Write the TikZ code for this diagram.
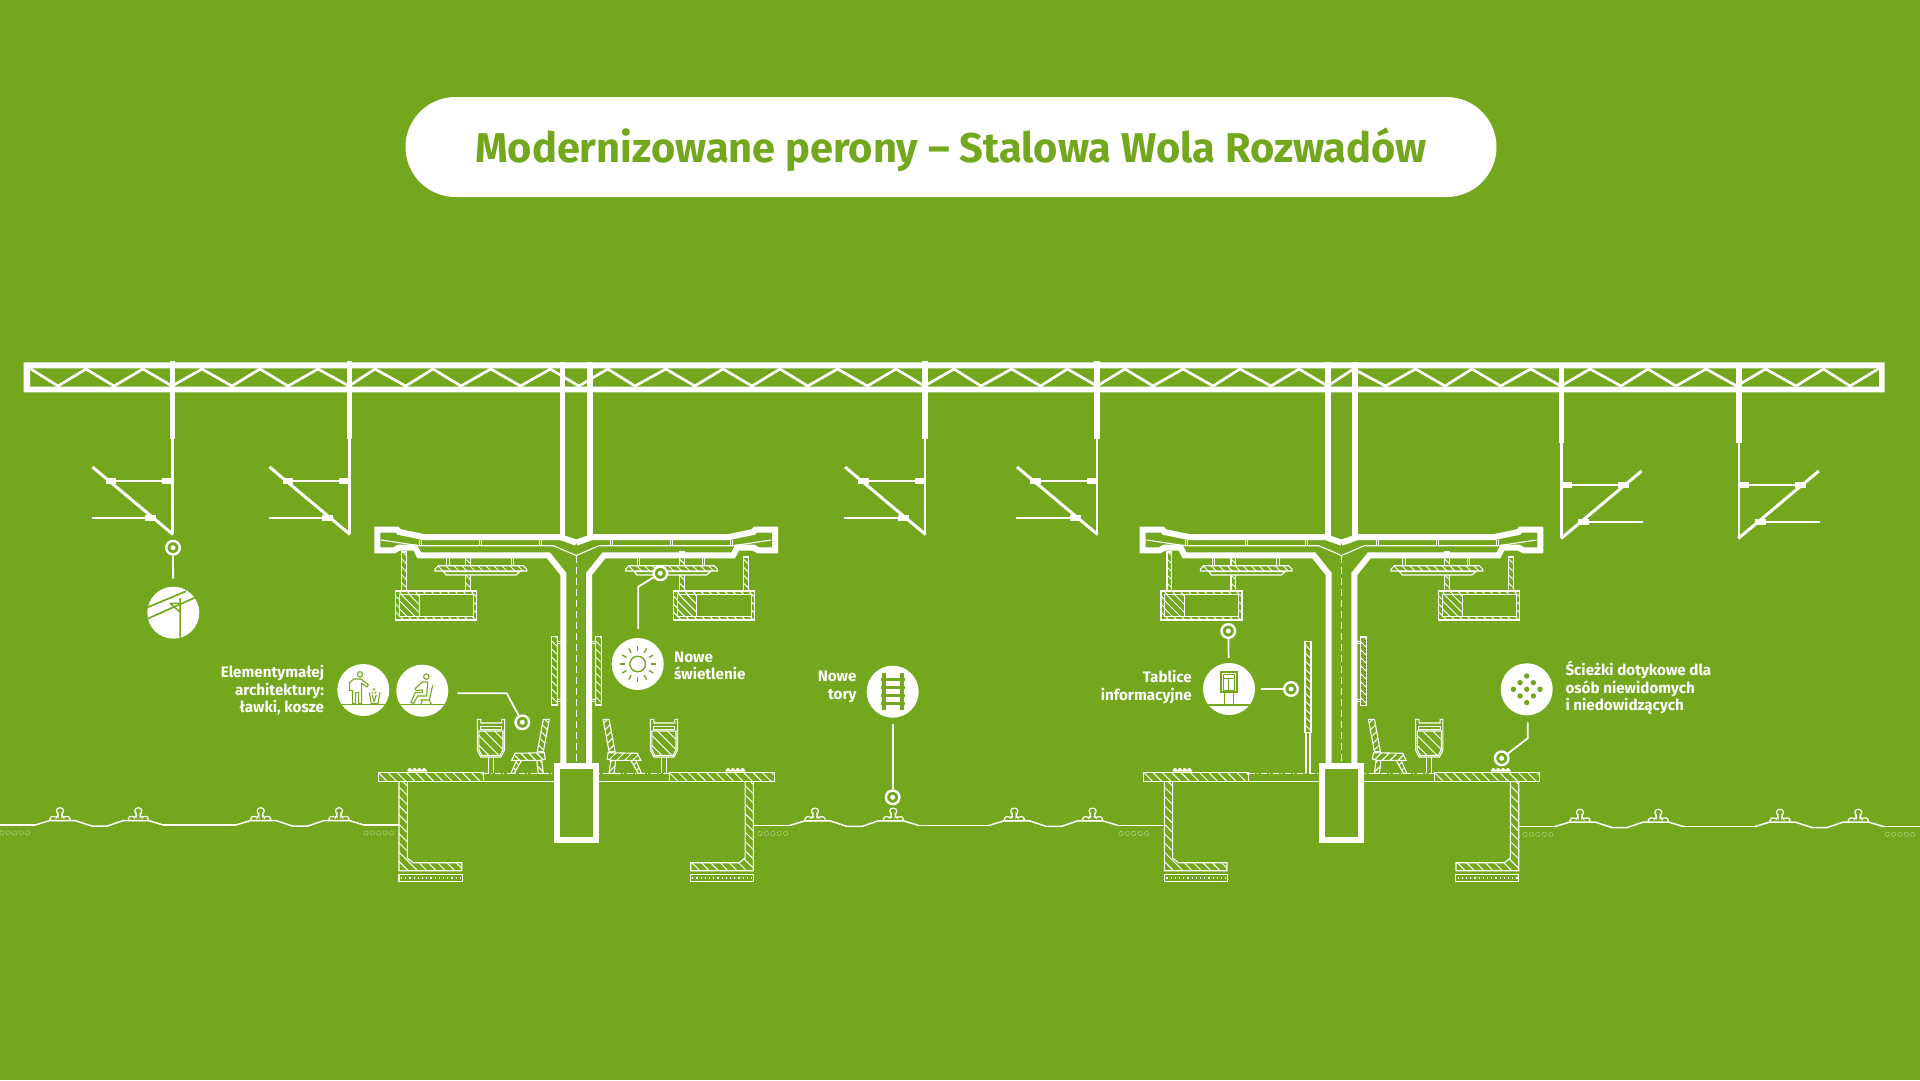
\documentclass[tikz,border=0pt]{standalone}
\usepackage{fontspec}
\usetikzlibrary{calc}
\setmainfont{Fira Sans}
\definecolor{bg}{RGB}{115,168,30}
\tikzset{
  fine/.style={draw=white,line width=1.1pt},
  hatchl/.style={white,line width=.95pt},
  thickl/.style={draw=white,line width=6pt,miter limit=10},
  lead/.style={draw=white,line width=1.8pt},
  ringn/.style={circle,draw=white,fill=bg,line width=2.4pt,minimum size=13.6pt,inner sep=0pt},
  iconc/.style={circle,fill=white,minimum size=52pt,inner sep=0pt},
  ink/.style={draw=bg,line width=1.1pt},
  lbl/.style={text=white,font=\bfseries\fontsize{15.2}{17.6}\selectfont},
  trk/.style={draw=white,line width=1.5pt},
  railp/.style={draw=white,fill=bg,line width=1.2pt,rounded corners=1.2pt},
  grav/.style={draw=white,line width=.45pt,dash pattern=on .7pt off 1pt},
}
% #1 path, #2-#5 bounding box, #6 step
\newcommand\hatchshape[6]{%
  \fill[bg] #1;
  \begin{scope}\clip #1;
    \pgfmathsetmacro\hhh{#5-(#3)}%
    \pgfmathsetmacro\xxs{#2-\hhh}%
    \pgfmathsetmacro\xxn{\xxs+#6}%
    \foreach \k in {\xxs,\xxn,...,#4} \draw[hatchl] (\k,#3) -- ++(\hhh,\hhh);
  \end{scope}
  \draw[fine] #1;}
\newcommand\hatchrect[5]{\hatchshape{(#1,#2) rectangle (#3,#4)}{#1}{#2}{#3}{#4}{#5}}
\newcommand\halfcanopy{%
  \draw[thickl] (0,542.7) -- (-16,537) -- (-152.8,537) -- (-177,532) -- (-179,529.7) -- (-198.8,529.7)
     -- (-198.8,550.3) -- (-182,550.3) -- (-177,547.5) -- (-161,547.5) -- (-157,555.3) -- (-27.8,555.3) -- (-12.8,574) -- (-12.8,766);
  \draw[draw=white,line width=5.6pt] (-13.6,362) -- (-13.6,537);
  \draw[fine] (-195,540) -- (-156.8,545.7) -- (-22.8,545.7) -- (0,555.5);
  \foreach \q in {-155.5,-95.5,-35.5}{\draw[white,line width=.8pt] (\q-1.1,540) -- (\q-1.1,545.7) (\q+1.1,540) -- (\q+1.1,545.7);}
}
\newcommand\lightbox[1]{\begin{scope}[shift={(#1,0)}]
  \hatchrect{6}{552}{10.7}{591}{8}
  \hatchrect{70}{557}{74.7}{591}{8}
  \hatchrect{0}{591}{81}{620}{8}
  \filldraw[fine,fill=bg] (3.7,594.3) rectangle (77.7,616.7);
  \hatchrect{3.7}{594.3}{23.4}{616.7}{8}
\end{scope}}
\newcommand\fixture[1]{\begin{scope}[shift={(#1,0)}]
  \foreach \q in {13,77.7}{\draw[white,line width=.9pt] (\q-1.1,557) -- (\q-1.1,565.7) (\q+1.1,557) -- (\q+1.1,565.7);}
  \hatchshape{(0,569)--(3.4,565.7)--(88.3,565.7)--(91.7,569)--(91.7,571)--(0,571)--cycle}{0}{565.7}{91.7}{571}{8}
  \filldraw[fine,fill=bg] (8.4,571.5) -- (11.2,575) -- (81,575) -- (85,571.5) -- cycle;
\end{scope}}
\newcommand\canopy[1]{\begin{scope}[shift={(#1,0)}]
  \draw[white,line width=1.1pt,dash pattern=on 7pt off 4pt] (0,556) -- (0,762);
  \lightbox{-180.5}\lightbox{97.2}
  \fixture{-141.2}\fixture{49.5}
  \halfcanopy
  \begin{scope}[xscale=-1]\halfcanopy\end{scope}
\end{scope}}
\newcommand\bump[1]{\begin{scope}[shift={(#1,0)}]
  \fill[white] (0,771.7) -- (0,770.3) -- (.4,770) arc[start angle=180,end angle=0,radius=2pt] -- (5.2,770) arc[start angle=180,end angle=0,radius=2pt] -- (10,770) arc[start angle=180,end angle=0,radius=2pt] -- (14.8,770) arc[start angle=180,end angle=0,radius=2pt] -- (19.5,770.3) -- (19.5,771.7) -- cycle;
\end{scope}}
\newcommand\platform[1]{\begin{scope}[shift={(#1,0)}]
  \draw[white,line width=1pt] (-93,781) -- (93,781);
  \draw[white,line width=.9pt,dash pattern=on 6pt off 2pt on 1pt off 3pt] (-93,773.6) -- (93,773.6);
  % walls
  \hatchshape{(-177.2,781)--(-177.2,870.7)--(-114.5,870.7)--(-114.5,862.7)--(-163,862.7)--(-168.9,858)--(-168.9,781)--cycle}{-177.2}{781}{-114.5}{870.7}{9.3}
  \hatchshape{(177.2,781)--(177.2,870.7)--(114.5,870.7)--(114.5,862.7)--(163,862.7)--(168.9,858)--(168.9,781)--cycle}{114.5}{781}{177.2}{870.7}{9.3}
  \hatchrect{-197.9}{772.7}{-92.9}{781.7}{9.3}
  \hatchrect{92.9}{772.7}{198}{781.7}{9.3}
  \foreach \q in {-177.2,114}{
    \begin{scope}[shift={(\q,0)}]
      \draw[fine] (0,874.3) rectangle (63.2,881.7);
      \draw[white,line width=1.2pt,dash pattern=on 1.2pt off 3pt] (2,878) -- (62,878);
    \end{scope}}
  \bump{-168.9}\bump{149.5}
\end{scope}}
\newcommand\stubs[4]{\draw[white,line width=.9pt] (#1,#2) -- (#3,#2) (#1,#2+2.6) -- (#3,#2+2.6) (#1,#4) -- (#3,#4) (#1,#4+2.6) -- (#3,#4+2.6);}
\newcommand\binat[1]{\begin{scope}[shift={(#1,0)}]
  \draw[fine] (11,757) -- (11,773) (16,757) -- (16,773);
  \filldraw[fine,fill=bg] (0,719.3) -- (0,750) -- (3.5,757) -- (23.8,757) -- (27.3,750) -- (27.3,719.3) -- (24.5,719.3) -- (24.5,723) -- (3.5,723) -- (3.5,719.3) -- cycle;
  \draw[fine] (2.8,726.5) rectangle (24.5,729.3);
  \hatchshape{(1.6,731) -- (25.7,731) -- (25.7,749.5) -- (22.8,755.4) -- (4.5,755.4) -- (1.6,749.5) -- cycle}{1.6}{731}{25.7}{755.4}{10}
\end{scope}}
\newcommand\benchshape{%
  \hatchshape{(-32.9,719.3) -- (-26.9,719.3) -- (-32.9,751.7) -- (-38.9,751.7) -- cycle}{-39}{719.3}{-26.9}{751.7}{8}
  \hatchshape{(-59.5,760) -- (-65.2,773.3) -- (-61.9,773.3) -- (-54.5,760) -- cycle}{-65.2}{760}{-54.5}{773.3}{8}
  \hatchshape{(-39.5,760) -- (-37.9,773.3) -- (-32.9,773.3) -- (-34.5,760) -- cycle}{-39.5}{760}{-32.9}{773.3}{8}
  \hatchshape{(-61.2,753.3) -- (-31.9,752.7) -- (-30.9,759) -- (-35.5,760.3) -- (-64.5,760.3) -- cycle}{-64.5}{752.7}{-30.9}{760.3}{8}
}
\newcommand\raily[2]{\begin{scope}[shift={(#1,#2)}]
  \filldraw[railp] (-10,0) -- (-10,-3) -- (-7,-4.5) -- (-3.5,-3) -- (-2,-4.5) -- (-2,-6.5) -- (-3.5,-8.5) -- (-3.5,-11) -- (-1.5,-12.7) -- (1.5,-12.7) -- (3.5,-11) -- (3.5,-8.5) -- (2,-6.5) -- (2,-4.5) -- (3.5,-3) -- (7,-4.5) -- (10,-3) -- (10,0) -- cycle;
  \end{scope}}
\newcommand\railpair[2]{\begin{scope}[shift={(#1,#2)}]
  \draw[trk] (0,825) -- (15,820.5) -- (40,820.5) -- (56.7,826) -- (72.3,826) -- (88.3,820.5) -- (113.3,820.5) -- (128.3,825);
  \raily{25}{820.5}\raily{103.3}{820.5}
\end{scope}}
\newcommand\gravel[2]{\foreach \q in {0,6.4,...,30}{\draw[grav] (#1+\q,#2) circle[radius=2.2pt];}}
\newcommand\catunit[2]{\begin{scope}[shift={(#1,0)}]
  \draw[white,line width=5.6pt] (0,360.5) -- (0,#2);
  \draw[white,line width=2.6pt] (0,#2) -- (0,533);
  \draw[white,line width=3pt] (-80,467) -- (.6,534.5);
  \draw[white,line width=1.6pt] (-57,481) -- (0,481) (-81,518) -- (-22,518);
  \fill[white] (-67,478) rectangle (-56.5,484);
  \fill[white] (-10.5,478) rectangle (0,484);
  \fill[white] (-27.5,515) rectangle (-16.5,521);
\end{scope}}
\newcommand\ringdot[1]{\fill[white] (#1) circle[radius=2.5pt];}
\begin{document}
\begin{tikzpicture}[x=1pt,y=-1pt]
\useasboundingbox (0,0) rectangle (1920,1080);
\fill[bg] (0,0) rectangle (1920,1080);

% title
\node[fill=white,rounded corners=50pt,minimum width=1091pt,minimum height=100pt,inner sep=0pt] (pill) at (951,147) {};
\node[text=bg,font=\bfseries\fontsize{41.6}{44}\selectfont] (title) at (951,150) {Modernizowane perony – Stalowa Wola Rozwadów};

% truss
\fill[white,even odd rule] (23.5,362.3) rectangle (1884.5,392.3) (30,368.3) rectangle (1879,386.5);
\draw[white,line width=2.7pt,line join=miter] (30,368.5) -- (58,386) -- (86,369) -- (114,386) -- (143,369) -- (172,386) -- (202,369) -- (232,386) -- (260,369) -- (288,386) -- (318,369) -- (349,386) -- (375,369) -- (405.7,386) -- (433,369) -- (461,386) -- (490.7,369) -- (520.6,386) -- (550.4,369) -- (578.8,386) -- (607.7,369) -- (635,386) -- (665.9,369) -- (694.7,386) -- (723,369) -- (752,386) -- (780,369) -- (807.7,386) -- (837.5,369) -- (867.4,386) -- (896,369) -- (924.5,386) -- (954,369) -- (981,386) -- (1011.6,369) -- (1040.5,386) -- (1067.4,369) -- (1097,386) -- (1125,369) -- (1153,386) -- (1183,369) -- (1213,386) -- (1240,369) -- (1271,386) -- (1299,369) -- (1327.6,386) -- (1353.4,369) -- (1385.5,386) -- (1415.4,369) -- (1445,386) -- (1472,369) -- (1500.6,386) -- (1530.6,369) -- (1561,386) -- (1590,369) -- (1621,386) -- (1648,369) -- (1676,386) -- (1706,369) -- (1736.7,386) -- (1765.6,369) -- (1796,386) -- (1823.5,369) -- (1850,386) -- (1879,368.5);

% catenary units
\catunit{172.5}{439}
\catunit{349.5}{439}
\catunit{925}{439}
\catunit{1097}{439}
\begin{scope}[shift={(0,4)}]
  \begin{scope}[xscale=-1]
    \catunit{-1561.6}{439.3}
    \catunit{-1738.8}{439.3}
  \end{scope}
\end{scope}

% platforms and canopies
\platform{576.2}
\platform{1341.5}
\canopy{576.2}
\canopy{1341.5}
\begin{scope}[shift={(576.2,0)}]
  \filldraw[thickl,fill=bg] (-19.2,765.7) rectangle (19.3,839.7);
  \hatchrect{-24.5}{636.7}{-18.5}{705}{8}
  \hatchrect{19.5}{636.7}{25.5}{705}{8}
  \stubs{-18.5}{641}{-15.5}{699}
  \stubs{15.5}{641}{19.5}{699}
  \binat{-98.9}\binat{74.1}
  \benchshape
  \begin{scope}[xscale=-1]\benchshape\end{scope}
\end{scope}
\begin{scope}[shift={(1341.5,0)}]
  \filldraw[thickl,fill=bg] (-19.2,765.7) rectangle (19.3,839.7);
  \hatchrect{-36.5}{641.7}{-30.5}{732.7}{8}
  \draw[fine] (-35.5,733) -- (-35.5,773) (-31.5,733) -- (-31.5,773);
  \hatchrect{19.2}{637}{25.2}{705.7}{8}
  \stubs{15.5}{641}{19.2}{699}
  \binat{74.1}
  \begin{scope}[xscale=-1]\benchshape\end{scope}
\end{scope}

% tracks
\draw[trk] (0,825) -- (35,825);
\railpair{35}{0}
\draw[trk] (163,825) -- (235.7,825);
\railpair{235.7}{0}
\draw[trk] (364,825) -- (399,825);
\draw[trk] (754,825.3) -- (790,825.3);
\railpair{790}{.3}
\draw[trk] (918,825.3) -- (989.3,825.3);
\railpair{989.3}{.3}
\draw[trk] (1117.6,825.3) -- (1163,825.3);
\draw[trk] (1519.3,826.7) -- (1555,826.7);
\railpair{1555}{1.5}
\draw[trk] (1683,826.7) -- (1755,826.7);
\railpair{1755}{1.5}
\draw[trk] (1883,826.7) -- (1920,826.7);
\gravel{2}{833}\gravel{366}{833}\gravel{760}{833.5}\gravel{1121}{833.5}\gravel{1525}{834.3}\gravel{1887}{834.3}

% icons
\node[iconc] (caticon) at (173.3,612.7) {};
\begin{scope}\clip (caticon) circle[radius=26pt];
  \draw[bg,line width=1.7pt] (147,607.5) -- (186,591.3) (147,619) -- (195,597.6);
  \draw[bg,line width=1.5pt] (180,598) -- (180,640) (170,603.3) -- (180,603.3) (170,603.3) -- (180,612);
\end{scope}

\node[iconc] (binicon) at (363.3,690) {};
\begin{scope}\clip (binicon) circle[radius=26pt];
  \draw[bg,line width=1.4pt] (330,704.6) -- (400,704.6);
\end{scope}
\begin{scope}[shift={(335,660)},scale=.3333]
  \draw[ink] (75,43) circle[radius=8pt];
  \draw[ink,line join=round] (44,92) -- (44,68) -- (56,57) -- (78,57) -- (100,74) -- (96,81) -- (80,70) -- (80,131) -- (71,131) -- (71,98) -- (62,98) -- (62,131) -- (53,131) -- (53,92) -- cycle;
  \draw[ink] (103,97) -- (109,131) -- (129,131) -- (135,97);
  \draw[ink] (112,105) -- (117,125) -- (124,105);
  \fill[bg] (117,88) circle[radius=4pt] (112,99) circle[radius=3pt] (122,98) circle[radius=3pt];
\end{scope}

\node[iconc] (seaticon) at (422.3,690.7) {};
\begin{scope}\clip (seaticon) circle[radius=26pt];
  \draw[bg,line width=1.4pt] (390,704.6) -- (460,704.6);
\end{scope}
\begin{scope}[shift={(335,660)},scale=.3333]
  \draw[ink] (274,50) circle[radius=8pt];
  \draw[ink,line join=round] (262,66) -- (278,66) -- (275,108) -- (248,108) -- (236,130) -- (228,128) -- (240,98) -- (262,98) -- (262,90) -- (244,92) -- (240,86) -- cycle;
  \draw[ink,line join=round] (293,76) -- (283,120) -- (256,120) (283,120) -- (289,132) (262,120) -- (258,132);
\end{scope}

\node[iconc] (sunicon) at (637.7,664) {};
\draw[bg,line width=1.4pt] (sunicon) circle[radius=7.8pt];
\foreach \a in {0,30,...,330}{\draw[bg,line width=1.4pt] ($(sunicon)+(\a:13pt)$) -- ($(sunicon)+(\a:18pt)$);}

\node[iconc] (railicon) at (892.7,691.7) {};
\begin{scope}[shift={(railicon)}]
  \foreach \q in {-12,-4,4,12}{\fill[bg] (-12,\q-1.3) rectangle (12,\q+1.3);}
  \fill[bg] (-11,-18.5) rectangle (-7,18.5);
  \fill[bg] (7,-18.5) rectangle (11,18.5);
\end{scope}

\node[iconc] (tabicon) at (1229,689) {};
\begin{scope}\clip (tabicon) circle[radius=26pt];
  \draw[bg,line width=1.4pt] (1200,705) -- (1260,705);
\end{scope}
\begin{scope}[shift={(1090,640)},scale=.3333]
  \draw[bg,line width=1.6pt] (393,96) rectangle (441,156);
  \draw[bg,line width=1pt] (400,103) rectangle (434,150) (400,116) -- (434,116) (417,116) -- (417,150);
  \draw[bg,line width=1.4pt] (404,156) -- (404,193) (431,156) -- (431,193);
\end{scope}

\node[iconc] (dotsicon) at (1526.7,689.3) {};
\begin{scope}[shift={(dotsicon)}]
  \foreach \p/\r in {0/-13.3,-6.67/-6.67,6.67/-6.67,-13.3/0,0/0,13.3/0,-6.67/6.67,6.67/6.67,0/13.3}{\fill[bg] (\p,\r) circle[radius=2.7pt];}
\end{scope}

% rings and leaders
\node[ringn] (catring) at (173,547.7) {};
\node[ringn] (elemring) at (522.3,722.3) {};
\node[ringn] (sunring) at (660.3,573.3) {};
\node[ringn] (toryring) at (892.7,797.3) {};
\node[ringn] (tabringa) at (1228.3,631) {};
\node[ringn] (tabringb) at (1291,689) {};
\node[ringn] (sciring) at (1501.7,758.3) {};
\ringdot{catring}\ringdot{elemring}\ringdot{sunring}\ringdot{toryring}\ringdot{tabringa}\ringdot{tabringb}\ringdot{sciring}
\coordinate (ea) at (457.3,693.3);
\coordinate (eb) at (506.7,693.3);
\coordinate (sa) at (638.3,629);
\coordinate (sb) at (638.3,586.7);
\coordinate (ca) at (1527.7,722.3);
\coordinate (cb) at (1527.7,738.3);
\draw[lead,shorten >=8pt] (catring) -- (caticon);
\draw[lead] (ea) -- (eb) -- (elemring);
\draw[lead] (sa) -- (sb) -- (sunring);
\draw[lead,shorten <=6.3pt] (railicon) -- (toryring);
\draw[lead,shorten >=5pt] (tabringa) -- (tabicon);
\draw[lead,shorten <=6pt] (tabicon) -- (tabringb);
\draw[lead] (ca) -- (cb) -- (sciring);

% labels
\node[lbl,anchor=east,align=right,inner sep=0pt] (l1) at (324.3,690.5) {Elementymałej\\architektury:\\ławki, kosze};
\node[lbl,anchor=west,align=left,inner sep=0pt] (l2) at (674,666) {Nowe\\świetlenie};
\node[lbl,anchor=east,align=right,inner sep=0pt] (l3) at (856.7,687) {Nowe\\tory};
\node[lbl,anchor=east,align=right,inner sep=0pt] (l4) at (1192,687.2) {Tablice\\informacyjne};
\node[lbl,anchor=west,align=left,inner sep=0pt] (l5) at (1565.3,687.7) {Ścieżki dotykowe dla\\osób niewidomych\\i niedowidzących};
\end{tikzpicture}
\end{document}
